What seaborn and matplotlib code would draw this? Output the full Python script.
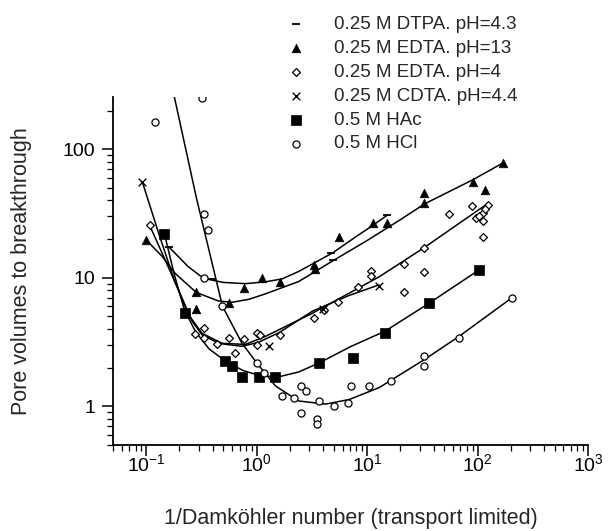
import matplotlib
matplotlib.use("Agg")
import matplotlib.pyplot as plt
import seaborn as sns
import pandas as pd
import numpy as np
from matplotlib.ticker import LogLocator, FixedLocator, FixedFormatter, NullFormatter

# ---------------- data ----------------
labels = ["0.25 M DTPA. pH=4.3", "0.25 M EDTA. pH=13", "0.25 M EDTA. pH=4",
          "0.25 M CDTA. pH=4.4", "0.5 M HAc", "0.5 M HCl"]

dtpa_x = [0.16, 0.39, 4.7, 4.9, 15.2]
dtpa_y = [17.5, 9.8, 15.5, 13.8, 30.8]

e13_x = [0.099, 0.283, 0.283, 0.565, 0.77, 1.12, 1.64, 3.3, 3.4, 5.56, 11.2, 15, 33, 33, 91, 117, 170]
e13_y = [19.7, 7.7, 5.7, 6.35, 8.3, 9.9, 9.3, 12.6, 11.8, 20.9, 26.6, 26.6, 45.4, 38, 55.8, 48.4, 78.3]

e4_x = [0.108, 0.277, 0.33, 0.33, 0.436, 0.557, 0.64, 0.76, 1.0, 1.08, 1.0, 1.64, 3.3, 4.06,
        5.4, 8.3, 10.8, 10.8, 21.7, 21.7, 32.5, 32.5, 55, 89, 124, 96, 112, 104, 112, 112, 118]
e4_y = [25.7, 3.68, 4.07, 3.43, 3.03, 3.4, 2.6, 3.35, 3.72, 3.6, 3.0, 3.6, 4.9, 5.65,
        6.5, 8.5, 11.2, 10.3, 12.9, 7.8, 16.9, 11.0, 31.4, 36.2, 36.7, 29, 32, 30, 27.6, 20.7, 34]

cdta_x = [0.092, 1.29, 4.0, 12.8]
cdta_y = [56, 2.97, 5.7, 8.7]

hac_x = [0.146, 0.225, 0.52, 0.6, 0.735, 1.04, 1.48, 3.7, 7.5, 14.6, 36.6, 103]
hac_y = [22, 5.3, 2.25, 2.05, 1.69, 1.69, 1.69, 2.18, 2.36, 3.72, 6.36, 11.5]

hcl_x = [0.12, 0.32, 0.33, 0.36, 0.33, 0.49, 1.0, 1.16, 1.7, 2.17, 2.5, 2.8, 2.5, 3.66, 3.54,
         3.54, 5.0, 6.7, 7.1, 10.3, 16.4, 33, 33, 68, 203]
hcl_y = [163, 250, 31.3, 23.5, 9.9, 6.0, 2.18, 1.82, 1.2, 1.17, 1.44, 1.31, 0.89, 1.1, 0.79,
         0.73, 1.0, 1.07, 1.44, 1.44, 1.57, 2.45, 2.05, 3.43, 6.95]

# hand-drawn fit curves
fit_dtpa_x = [0.159, 0.24, 0.33, 0.5, 0.79, 1.2, 1.7, 2.4, 4.86, 8, 11.2, 15.3]
fit_dtpa_y = [17.5, 12.2, 9.9, 9.2, 9.0, 9.3, 9.8, 11.2, 15.6, 21, 25.5, 30.8]

fit_e13_x = [0.1, 0.14, 0.183, 0.283, 0.45, 0.6, 0.85, 1.2, 2.4, 4.86, 10, 19.6, 33, 91, 170]
fit_e13_y = [19.7, 14.6, 10.8, 7.7, 6.6, 6.45, 6.8, 7.5, 9.35, 13.5, 19.5, 28, 37.5, 58, 78.3]

fit_e4_x = [0.108, 0.196, 0.26, 0.32, 0.45, 0.79, 1.2, 3.2, 12.9, 32.3, 124]
fit_e4_y = [25.3, 8.05, 4.6, 3.6, 3.1, 3.03, 3.5, 5.3, 10.2, 17, 37.9]

fit_cdta_x = [0.092, 0.13, 0.18, 0.24, 0.32, 0.5, 0.74, 1.04, 1.6, 3.2, 6.9, 12.8]
fit_cdta_y = [56, 22, 9.5, 5.2, 3.7, 3.05, 2.93, 3.15, 3.75, 5.5, 7.3, 8.8]

fit_hac_x = [0.146, 0.18, 0.222, 0.28, 0.37, 0.52, 0.75, 1.1, 1.6, 2.4, 3.7, 7, 14.6, 36.6, 103]
fit_hac_y = [22, 10.5, 5.6, 3.8, 2.8, 2.25, 1.9, 1.72, 1.7, 1.85, 2.18, 2.9, 3.85, 6.36, 11.5]

fit_hcl_x = [0.176, 0.285, 0.49, 0.735, 1.0, 1.48, 2.4, 4.2, 6.9, 12.9, 33, 68, 203]
fit_hcl_y = [277, 41.6, 6.0, 3.1, 2.18, 1.44, 1.1, 1.04, 1.13, 1.4, 2.31, 3.5, 6.95]

x_ticks = [0.1, 1, 10, 100, 1000]
y_ticks = [1, 10, 100]
y_ticklabels = ["1", "10", "100"]

# ---------------- style ----------------
sns.set_theme(style="ticks")
plt.rcParams["font.family"] = ["Liberation Sans", "DejaVu Sans"]
plt.rcParams["mathtext.fontset"] = "custom"
plt.rcParams["mathtext.rm"] = "Liberation Sans"
plt.rcParams["mathtext.it"] = "Liberation Sans"

fig = plt.figure(figsize=(6.09, 5.31), dpi=100)
ax = fig.add_axes([113 / 609, 1 - 445 / 531, 475 / 609, 348 / 531])

# curves
curves = [(fit_dtpa_x, fit_dtpa_y), (fit_e13_x, fit_e13_y), (fit_e4_x, fit_e4_y),
          (fit_cdta_x, fit_cdta_y), (fit_hac_x, fit_hac_y), (fit_hcl_x, fit_hcl_y)]
for cx, cy in curves:
    sns.lineplot(x=cx, y=cy, sort=False, estimator=None, color="black", lw=1.1, ax=ax, zorder=2)

# points
sns.scatterplot(x=dtpa_x, y=dtpa_y, marker="_", s=30, color="black", linewidth=1.3,
                ax=ax, label=labels[0], zorder=3)
sns.scatterplot(x=e13_x, y=e13_y, marker="^", s=38, color="black", edgecolor="black",
                linewidth=0.5, ax=ax, label=labels[1], zorder=3)
sns.scatterplot(x=e4_x, y=e4_y, marker="D", s=16, facecolor="white", edgecolor="black",
                linewidth=0.9, ax=ax, label=labels[2], zorder=3)
sns.scatterplot(x=cdta_x, y=cdta_y, marker="x", s=30, color="black", linewidth=1.0,
                ax=ax, label=labels[3], zorder=3)
sns.scatterplot(x=hac_x, y=hac_y, marker="s", s=42, color="black", edgecolor="black",
                linewidth=0.5, ax=ax, label=labels[4], zorder=3)
sns.scatterplot(x=hcl_x, y=hcl_y, marker="o", s=26, facecolor="white", edgecolor="black",
                linewidth=0.9, ax=ax, label=labels[5], zorder=3)

ax.set_xscale("log")
ax.set_yscale("log")
ax.set_xlim(0.05, 1000)
ax.set_ylim(0.5, 255)

ax.xaxis.set_major_locator(FixedLocator(x_ticks))
ax.xaxis.set_minor_locator(LogLocator(base=10, subs=np.arange(2, 10)))
ax.xaxis.set_minor_formatter(NullFormatter())
ax.yaxis.set_major_locator(FixedLocator(y_ticks))
ax.yaxis.set_major_formatter(FixedFormatter(y_ticklabels))
ax.yaxis.set_minor_locator(LogLocator(base=10, subs=np.arange(2, 10)))
ax.yaxis.set_minor_formatter(NullFormatter())

for s in ["top", "right"]:
    ax.spines[s].set_visible(False)
for s in ["left", "bottom"]:
    ax.spines[s].set_linewidth(1.3)
    ax.spines[s].set_color("black")

ax.tick_params(which="major", direction="out", length=8, width=1.1, labelsize=14,
               colors="black")
ax.tick_params(axis="y", which="major", pad=5)
ax.tick_params(axis="x", which="major", pad=-2)
ax.tick_params(which="minor", direction="out", length=4.5, width=0.9, colors="black")

ax.set_xlabel("1/Damköhler number (transport limited)", fontsize=15.5)
ax.set_ylabel("Pore volumes to breakthrough", fontsize=15.5)
ax.xaxis.set_label_coords(0.5, -0.18)
ax.yaxis.set_label_coords(-0.17, 0.5)

handles, labs = ax.get_legend_handles_labels()
ax.get_legend().remove()
fig.legend(handles, labs, loc="upper left", bbox_to_anchor=(287 / 609, 1 - 16 / 531),
           frameon=False, fontsize=13.5, handlelength=1.0, handletextpad=1.5,
           labelspacing=0.36, borderpad=0, borderaxespad=0, markerscale=1.0)

fig.savefig("out.png", dpi=100, facecolor="white")
